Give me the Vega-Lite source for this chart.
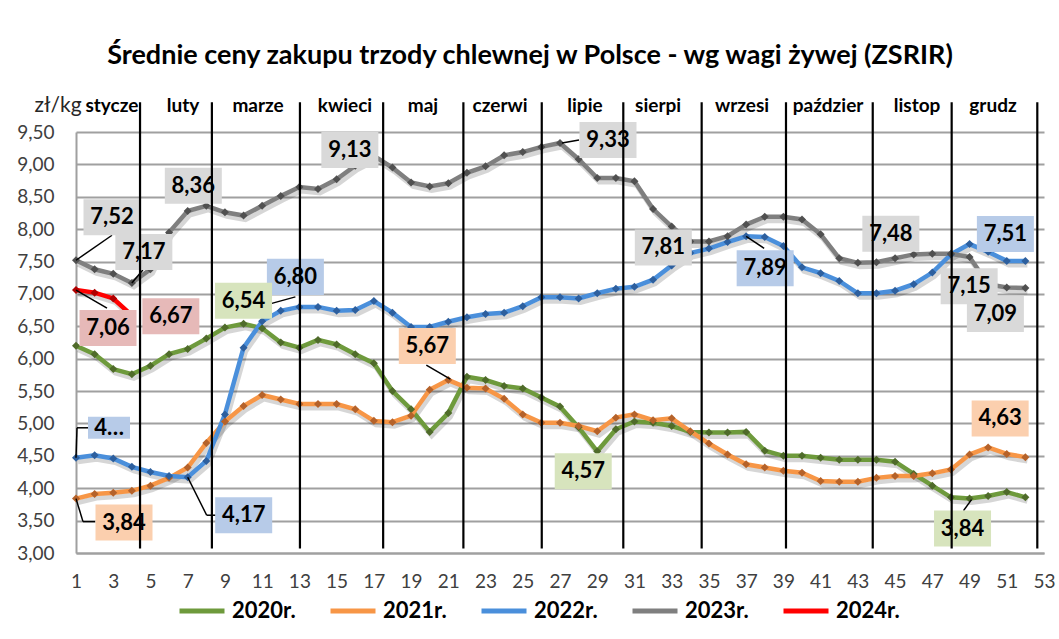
{
"$schema":"https://vega.github.io/schema/vega-lite/v6.json",
"width":968,"height":421,
"autosize":{"type":"none"},
"padding":{"left":76,"top":132,"right":15,"bottom":86},
"background":"white",
"title":{"text":"Średnie ceny zakupu trzody chlewnej w Polsce - wg wagi żywej (ZSRIR)","fontSize":27,"fontWeight":"bold","color":"#000","anchor":"middle","offset":24,"dx":-30},
"config":{"font":"Lato","view":{"stroke":null},"locale":{"number":{"decimal":",","thousands":" ","grouping":[3],"currency":["","zł"]}}},
"datasets":{
"seps":[{"week":4.44},{"week":8.3},{"week":13.03},{"week":17.5},{"week":21.81},{"week":26.02},{"week":30.4},{"week":34.61},{"week":39.14},{"week":43.8},{"week":48.04},{"week":52.64}],
"months":[{"week":2.93,"month":"stycze"},{"week":6.75,"month":"luty"},{"week":10.78,"month":"marze"},{"week":15.45,"month":"kwieci"},{"week":19.64,"month":"maj"},{"week":23.78,"month":"czerwi"},{"week":28.34,"month":"lipie"},{"week":32.27,"month":"sierpi"},{"week":36.78,"month":"wrzesi"},{"week":41.4,"month":"paździer"},{"week":46.18,"month":"listop"},{"week":50.26,"month":"grudz"}],
"prices":[
{"week":1,"series":"2020r.","price":6.20},{"week":2,"series":"2020r.","price":6.07},{"week":3,"series":"2020r.","price":5.84},{"week":4,"series":"2020r.","price":5.76},{"week":5,"series":"2020r.","price":5.89},{"week":6,"series":"2020r.","price":6.07},{"week":7,"series":"2020r.","price":6.15},{"week":8,"series":"2020r.","price":6.31},{"week":9,"series":"2020r.","price":6.48},{"week":10,"series":"2020r.","price":6.54},
{"week":11,"series":"2020r.","price":6.47},{"week":12,"series":"2020r.","price":6.25},{"week":13,"series":"2020r.","price":6.17},{"week":14,"series":"2020r.","price":6.29},{"week":15,"series":"2020r.","price":6.22},{"week":16,"series":"2020r.","price":6.07},{"week":17,"series":"2020r.","price":5.93},{"week":18,"series":"2020r.","price":5.50},{"week":19,"series":"2020r.","price":5.22},{"week":20,"series":"2020r.","price":4.87},
{"week":21,"series":"2020r.","price":5.16},{"week":22,"series":"2020r.","price":5.72},{"week":23,"series":"2020r.","price":5.67},{"week":24,"series":"2020r.","price":5.58},{"week":25,"series":"2020r.","price":5.54},{"week":26,"series":"2020r.","price":5.40},{"week":27,"series":"2020r.","price":5.26},{"week":28,"series":"2020r.","price":4.94},{"week":29,"series":"2020r.","price":4.57},{"week":30,"series":"2020r.","price":4.91},
{"week":31,"series":"2020r.","price":5.03},{"week":32,"series":"2020r.","price":5.01},{"week":33,"series":"2020r.","price":4.96},{"week":34,"series":"2020r.","price":4.87},{"week":35,"series":"2020r.","price":4.86},{"week":36,"series":"2020r.","price":4.86},{"week":37,"series":"2020r.","price":4.87},{"week":38,"series":"2020r.","price":4.58},{"week":39,"series":"2020r.","price":4.50},{"week":40,"series":"2020r.","price":4.50},
{"week":41,"series":"2020r.","price":4.47},{"week":42,"series":"2020r.","price":4.44},{"week":43,"series":"2020r.","price":4.44},{"week":44,"series":"2020r.","price":4.44},{"week":45,"series":"2020r.","price":4.41},{"week":46,"series":"2020r.","price":4.22},{"week":47,"series":"2020r.","price":4.04},{"week":48,"series":"2020r.","price":3.86},{"week":49,"series":"2020r.","price":3.84},{"week":50,"series":"2020r.","price":3.88},
{"week":51,"series":"2020r.","price":3.94},{"week":52,"series":"2020r.","price":3.86},
{"week":1,"series":"2021r.","price":3.84},{"week":2,"series":"2021r.","price":3.91},{"week":3,"series":"2021r.","price":3.93},{"week":4,"series":"2021r.","price":3.96},{"week":5,"series":"2021r.","price":4.04},{"week":6,"series":"2021r.","price":4.16},{"week":7,"series":"2021r.","price":4.32},{"week":8,"series":"2021r.","price":4.70},{"week":9,"series":"2021r.","price":5.03},{"week":10,"series":"2021r.","price":5.27},
{"week":11,"series":"2021r.","price":5.44},{"week":12,"series":"2021r.","price":5.37},{"week":13,"series":"2021r.","price":5.30},{"week":14,"series":"2021r.","price":5.30},{"week":15,"series":"2021r.","price":5.30},{"week":16,"series":"2021r.","price":5.22},{"week":17,"series":"2021r.","price":5.04},{"week":18,"series":"2021r.","price":5.02},{"week":19,"series":"2021r.","price":5.12},{"week":20,"series":"2021r.","price":5.52},
{"week":21,"series":"2021r.","price":5.67},{"week":22,"series":"2021r.","price":5.55},{"week":23,"series":"2021r.","price":5.54},{"week":24,"series":"2021r.","price":5.38},{"week":25,"series":"2021r.","price":5.14},{"week":26,"series":"2021r.","price":5.01},{"week":27,"series":"2021r.","price":5.01},{"week":28,"series":"2021r.","price":4.96},{"week":29,"series":"2021r.","price":4.88},{"week":30,"series":"2021r.","price":5.09},
{"week":31,"series":"2021r.","price":5.14},{"week":32,"series":"2021r.","price":5.05},{"week":33,"series":"2021r.","price":5.08},{"week":34,"series":"2021r.","price":4.88},{"week":35,"series":"2021r.","price":4.69},{"week":36,"series":"2021r.","price":4.52},{"week":37,"series":"2021r.","price":4.37},{"week":38,"series":"2021r.","price":4.32},{"week":39,"series":"2021r.","price":4.27},{"week":40,"series":"2021r.","price":4.24},
{"week":41,"series":"2021r.","price":4.11},{"week":42,"series":"2021r.","price":4.10},{"week":43,"series":"2021r.","price":4.10},{"week":44,"series":"2021r.","price":4.16},{"week":45,"series":"2021r.","price":4.19},{"week":46,"series":"2021r.","price":4.19},{"week":47,"series":"2021r.","price":4.23},{"week":48,"series":"2021r.","price":4.29},{"week":49,"series":"2021r.","price":4.52},{"week":50,"series":"2021r.","price":4.63},
{"week":51,"series":"2021r.","price":4.53},{"week":52,"series":"2021r.","price":4.48},
{"week":1,"series":"2022r.","price":4.47},{"week":2,"series":"2022r.","price":4.51},{"week":3,"series":"2022r.","price":4.46},{"week":4,"series":"2022r.","price":4.33},{"week":5,"series":"2022r.","price":4.25},{"week":6,"series":"2022r.","price":4.19},{"week":7,"series":"2022r.","price":4.17},{"week":8,"series":"2022r.","price":4.42},{"week":9,"series":"2022r.","price":5.14},{"week":10,"series":"2022r.","price":6.17},
{"week":11,"series":"2022r.","price":6.58},{"week":12,"series":"2022r.","price":6.74},{"week":13,"series":"2022r.","price":6.80},{"week":14,"series":"2022r.","price":6.80},{"week":15,"series":"2022r.","price":6.74},{"week":16,"series":"2022r.","price":6.75},{"week":17,"series":"2022r.","price":6.89},{"week":18,"series":"2022r.","price":6.71},{"week":19,"series":"2022r.","price":6.49},{"week":20,"series":"2022r.","price":6.49},
{"week":21,"series":"2022r.","price":6.57},{"week":22,"series":"2022r.","price":6.64},{"week":23,"series":"2022r.","price":6.69},{"week":24,"series":"2022r.","price":6.71},{"week":25,"series":"2022r.","price":6.81},{"week":26,"series":"2022r.","price":6.95},{"week":27,"series":"2022r.","price":6.95},{"week":28,"series":"2022r.","price":6.93},{"week":29,"series":"2022r.","price":7.01},{"week":30,"series":"2022r.","price":7.08},
{"week":31,"series":"2022r.","price":7.11},{"week":32,"series":"2022r.","price":7.22},{"week":33,"series":"2022r.","price":7.44},{"week":34,"series":"2022r.","price":7.63},{"week":35,"series":"2022r.","price":7.70},{"week":36,"series":"2022r.","price":7.80},{"week":37,"series":"2022r.","price":7.89},{"week":38,"series":"2022r.","price":7.88},{"week":39,"series":"2022r.","price":7.74},{"week":40,"series":"2022r.","price":7.41},
{"week":41,"series":"2022r.","price":7.32},{"week":42,"series":"2022r.","price":7.20},{"week":43,"series":"2022r.","price":7.01},{"week":44,"series":"2022r.","price":7.01},{"week":45,"series":"2022r.","price":7.05},{"week":46,"series":"2022r.","price":7.15},{"week":47,"series":"2022r.","price":7.33},{"week":48,"series":"2022r.","price":7.61},{"week":49,"series":"2022r.","price":7.77},{"week":50,"series":"2022r.","price":7.65},
{"week":51,"series":"2022r.","price":7.51},{"week":52,"series":"2022r.","price":7.51},
{"week":1,"series":"2023r.","price":7.52},{"week":2,"series":"2023r.","price":7.38},{"week":3,"series":"2023r.","price":7.31},{"week":4,"series":"2023r.","price":7.17},{"week":5,"series":"2023r.","price":7.38},{"week":6,"series":"2023r.","price":7.95},{"week":7,"series":"2023r.","price":8.28},{"week":8,"series":"2023r.","price":8.36},{"week":9,"series":"2023r.","price":8.26},{"week":10,"series":"2023r.","price":8.21},
{"week":11,"series":"2023r.","price":8.36},{"week":12,"series":"2023r.","price":8.51},{"week":13,"series":"2023r.","price":8.65},{"week":14,"series":"2023r.","price":8.62},{"week":15,"series":"2023r.","price":8.77},{"week":16,"series":"2023r.","price":8.98},{"week":17,"series":"2023r.","price":9.13},{"week":18,"series":"2023r.","price":8.95},{"week":19,"series":"2023r.","price":8.72},{"week":20,"series":"2023r.","price":8.66},
{"week":21,"series":"2023r.","price":8.71},{"week":22,"series":"2023r.","price":8.87},{"week":23,"series":"2023r.","price":8.97},{"week":24,"series":"2023r.","price":9.14},{"week":25,"series":"2023r.","price":9.19},{"week":26,"series":"2023r.","price":9.27},{"week":27,"series":"2023r.","price":9.33},{"week":28,"series":"2023r.","price":9.08},{"week":29,"series":"2023r.","price":8.79},{"week":30,"series":"2023r.","price":8.79},
{"week":31,"series":"2023r.","price":8.74},{"week":32,"series":"2023r.","price":8.31},{"week":33,"series":"2023r.","price":8.04},{"week":34,"series":"2023r.","price":7.81},{"week":35,"series":"2023r.","price":7.81},{"week":36,"series":"2023r.","price":7.89},{"week":37,"series":"2023r.","price":8.07},{"week":38,"series":"2023r.","price":8.19},{"week":39,"series":"2023r.","price":8.19},{"week":40,"series":"2023r.","price":8.15},
{"week":41,"series":"2023r.","price":7.92},{"week":42,"series":"2023r.","price":7.55},{"week":43,"series":"2023r.","price":7.48},{"week":44,"series":"2023r.","price":7.49},{"week":45,"series":"2023r.","price":7.55},{"week":46,"series":"2023r.","price":7.61},{"week":47,"series":"2023r.","price":7.62},{"week":48,"series":"2023r.","price":7.62},{"week":49,"series":"2023r.","price":7.57},{"week":50,"series":"2023r.","price":7.15},
{"week":51,"series":"2023r.","price":7.10},{"week":52,"series":"2023r.","price":7.09},
{"week":1,"series":"2024r.","price":7.06},{"week":2,"series":"2024r.","price":7.02},{"week":3,"series":"2024r.","price":6.93},{"week":4,"series":"2024r.","price":6.67}
]},
"layer":[
{"data":{"name":"prices"},
"encoding":{
"x":{"field":"week","type":"quantitative","scale":{"domain":[1,53],"nice":false,"zero":false},"axis":{"values":[1,3,5,7,9,11,13,15,17,19,21,23,25,27,29,31,33,35,37,39,41,43,45,47,49,51,53],"format":"d","title":null,"grid":false,"ticks":false,"labelPadding":19,"labelFontSize":19,"labelColor":"#404040","domainColor":"#a0a0a0","domainWidth":2,"labelFlush":false,"labelOverlap":false}},
"y":{"field":"price","type":"quantitative","scale":{"domain":[3,9.5],"nice":false,"zero":false},"axis":{"values":[3,3.5,4,4.5,5,5.5,6,6.5,7,7.5,8,8.5,9,9.5],"format":".2f","title":"zł/kg","titleAngle":0,"titleAlign":"left","titleBaseline":"alphabetic","titleX":-42,"titleY":-21,"titleFontSize":21,"titleFontWeight":"normal","titleColor":"#262626","grid":true,"gridColor":"#a0a0a0","gridWidth":2,"ticks":false,"labelPadding":22,"labelFontSize":19,"labelColor":"#404040","domainColor":"#a0a0a0","domainWidth":2,"labelOverlap":false}}
},
"layer":[
{"mark":{"type":"line","strokeWidth":5,"xOffset":2,"yOffset":4,"opacity":0.16,"color":"#000"},"encoding":{"detail":{"field":"series"}}},
{"mark":{"type":"line","strokeWidth":4.5},"encoding":{"color":{"field":"series","type":"nominal","scale":{"domain":["2020r.","2021r.","2022r.","2023r.","2024r."],"range":["#6e9a3c","#f79646","#4a8fdb","#7f7f7f","#ff0000"]},"legend":{"orient":"none","legendX":101,"legendY":454,"direction":"horizontal","title":null,"symbolType":"stroke","symbolStrokeWidth":5,"symbolSize":2025,"labelFontSize":22,"labelFontWeight":"bold","labelColor":"#000","columnPadding":24,"labelOffset":5}}}},
{"mark":{"type":"point","shape":"diamond","filled":true,"size":64,"opacity":1},"encoding":{"fill":{"field":"series","type":"nominal","scale":{"domain":["2020r.","2021r.","2022r.","2023r.","2024r."],"range":["#4f6b2a","#b5622a","#2d5f9e","#505050","#b00000"]},"legend":null}}},

{"transform":[{"filter":"datum.series==='2023r.'&&datum.week===1"}],"layer":[
{"mark":{"type":"rule","color":"#000","strokeWidth":1.5,"x2Offset":36,"y2Offset":-25},"encoding":{"x2":{"field":"week"},"y2":{"field":"price"}}},
{"mark":{"type":"point","shape":"M-1,-0.632L1,-0.632L1,0.632L-1,0.632Z","size":3249,"filled":true,"fill":"#d9d9d9","opacity":1,"strokeWidth":0,"xOffset":36,"yOffset":-43}},
{"mark":{"type":"text","fontSize":22,"fontWeight":"bold","fill":"#000","xOffset":36,"yOffset":-43,"baseline":"middle"},"encoding":{"text":{"field":"price","type":"quantitative","format":".2f"}}}]},
{"transform":[{"filter":"datum.series==='2023r.'&&datum.week===4"}],"layer":[
{"mark":{"type":"rule","color":"#000","strokeWidth":1.5,"x2Offset":11,"y2Offset":-13},"encoding":{"x2":{"field":"week"},"y2":{"field":"price"}}},
{"mark":{"type":"point","shape":"M-1,-0.632L1,-0.632L1,0.632L-1,0.632Z","size":3249,"filled":true,"fill":"#d9d9d9","opacity":1,"strokeWidth":0,"xOffset":12,"yOffset":-31}},
{"mark":{"type":"text","fontSize":22,"fontWeight":"bold","fill":"#000","xOffset":12,"yOffset":-31,"baseline":"middle"},"encoding":{"text":{"field":"price","type":"quantitative","format":".2f"}}}]},
{"transform":[{"filter":"datum.series==='2023r.'&&datum.week===8"}],"layer":[
{"mark":{"type":"point","shape":"M-1,-0.632L1,-0.632L1,0.632L-1,0.632Z","size":3249,"filled":true,"fill":"#d9d9d9","opacity":1,"strokeWidth":0,"xOffset":-13,"yOffset":-20}},
{"mark":{"type":"text","fontSize":22,"fontWeight":"bold","fill":"#000","xOffset":-13,"yOffset":-20,"baseline":"middle"},"encoding":{"text":{"field":"price","type":"quantitative","format":".2f"}}}]},
{"transform":[{"filter":"datum.series==='2023r.'&&datum.week===17"}],"layer":[
{"mark":{"type":"point","shape":"M-1,-0.632L1,-0.632L1,0.632L-1,0.632Z","size":3249,"filled":true,"fill":"#d9d9d9","opacity":1,"strokeWidth":0,"xOffset":-24,"yOffset":-6}},
{"mark":{"type":"text","fontSize":22,"fontWeight":"bold","fill":"#000","xOffset":-24,"yOffset":-6,"baseline":"middle"},"encoding":{"text":{"field":"price","type":"quantitative","format":".2f"}}}]},
{"transform":[{"filter":"datum.series==='2023r.'&&datum.week===27"}],"layer":[
{"mark":{"type":"rule","color":"#000","strokeWidth":1.5,"xOffset":2,"x2Offset":19,"y2Offset":-3},"encoding":{"x2":{"field":"week"},"y2":{"field":"price"}}},
{"mark":{"type":"point","shape":"M-1,-0.632L1,-0.632L1,0.632L-1,0.632Z","size":3249,"filled":true,"fill":"#d9d9d9","opacity":1,"strokeWidth":0,"xOffset":48,"yOffset":-3}},
{"mark":{"type":"text","fontSize":22,"fontWeight":"bold","fill":"#000","xOffset":48,"yOffset":-3,"baseline":"middle"},"encoding":{"text":{"field":"price","type":"quantitative","format":".2f"}}}]},
{"transform":[{"filter":"datum.series==='2023r.'&&datum.week===34"}],"layer":[
{"mark":{"type":"point","shape":"M-1,-0.632L1,-0.632L1,0.632L-1,0.632Z","size":3249,"filled":true,"fill":"#d9d9d9","opacity":1,"strokeWidth":0,"xOffset":-27,"yOffset":6}},
{"mark":{"type":"text","fontSize":22,"fontWeight":"bold","fill":"#000","xOffset":-27,"yOffset":6,"baseline":"middle"},"encoding":{"text":{"field":"price","type":"quantitative","format":".2f"}}}]},
{"transform":[{"filter":"datum.series==='2023r.'&&datum.week===43"}],"layer":[
{"mark":{"type":"point","shape":"M-1,-0.632L1,-0.632L1,0.632L-1,0.632Z","size":3249,"filled":true,"fill":"#d9d9d9","opacity":1,"strokeWidth":0,"xOffset":33,"yOffset":-29}},
{"mark":{"type":"text","fontSize":22,"fontWeight":"bold","fill":"#000","xOffset":33,"yOffset":-29,"baseline":"middle"},"encoding":{"text":{"field":"price","type":"quantitative","format":".2f"}}}]},
{"transform":[{"filter":"datum.series==='2023r.'&&datum.week===50"}],"layer":[
{"mark":{"type":"point","shape":"M-1,-0.632L1,-0.632L1,0.632L-1,0.632Z","size":3249,"filled":true,"fill":"#d9d9d9","opacity":1,"strokeWidth":0,"xOffset":-19,"yOffset":2}},
{"mark":{"type":"text","fontSize":22,"fontWeight":"bold","fill":"#000","xOffset":-19,"yOffset":2,"baseline":"middle"},"encoding":{"text":{"field":"price","type":"quantitative","format":".2f"}}}]},
{"transform":[{"filter":"datum.series==='2023r.'&&datum.week===52"}],"layer":[
{"mark":{"type":"point","shape":"M-1,-0.632L1,-0.632L1,0.632L-1,0.632Z","size":3249,"filled":true,"fill":"#d9d9d9","opacity":1,"strokeWidth":0,"xOffset":-30,"yOffset":26}},
{"mark":{"type":"text","fontSize":22,"fontWeight":"bold","fill":"#000","xOffset":-30,"yOffset":26,"baseline":"middle"},"encoding":{"text":{"field":"price","type":"quantitative","format":".2f"}}}]},

{"transform":[{"filter":"datum.series==='2022r.'&&datum.week===1"}],"layer":[
{"mark":{"type":"rule","color":"#000","strokeWidth":1.5,"x2Offset":1,"y2Offset":-30},"encoding":{"x2":{"field":"week"},"y2":{"field":"price"}}},
{"mark":{"type":"rule","color":"#000","strokeWidth":1.5,"xOffset":1,"yOffset":-30,"x2Offset":12,"y2Offset":-30},"encoding":{"x2":{"field":"week"},"y2":{"field":"price"}}},
{"mark":{"type":"point","shape":"M-1,-0.524L1,-0.524L1,0.524L-1,0.524Z","size":1764,"filled":true,"fill":"#b7cbe8","opacity":1,"strokeWidth":0,"xOffset":33,"yOffset":-30}},
{"mark":{"type":"text","text":"4…","fontSize":22,"fontWeight":"bold","fill":"#000","xOffset":33,"yOffset":-30,"baseline":"middle"}}]},
{"transform":[{"filter":"datum.series==='2022r.'&&datum.week===7"}],"layer":[
{"mark":{"type":"rule","color":"#000","strokeWidth":1.5,"x2Offset":19,"y2Offset":38},"encoding":{"x2":{"field":"week"},"y2":{"field":"price"}}},
{"mark":{"type":"rule","color":"#000","strokeWidth":1.5,"xOffset":19,"yOffset":38,"x2Offset":28,"y2Offset":38},"encoding":{"x2":{"field":"week"},"y2":{"field":"price"}}},
{"mark":{"type":"point","shape":"M-1,-0.632L1,-0.632L1,0.632L-1,0.632Z","size":3249,"filled":true,"fill":"#b7cbe8","opacity":1,"strokeWidth":0,"xOffset":56,"yOffset":38}},
{"mark":{"type":"text","fontSize":22,"fontWeight":"bold","fill":"#000","xOffset":56,"yOffset":38,"baseline":"middle"},"encoding":{"text":{"field":"price","type":"quantitative","format":".2f"}}}]},
{"transform":[{"filter":"datum.series==='2022r.'&&datum.week===13"}],"layer":[
{"mark":{"type":"rule","color":"#000","strokeWidth":1.5,"xOffset":-33,"yOffset":-2,"x2Offset":-4,"y2Offset":-10},"encoding":{"x2":{"field":"week"},"y2":{"field":"price"}}},
{"mark":{"type":"point","shape":"M-1,-0.632L1,-0.632L1,0.632L-1,0.632Z","size":3249,"filled":true,"fill":"#b7cbe8","opacity":1,"strokeWidth":0,"xOffset":-4,"yOffset":-30}},
{"mark":{"type":"text","fontSize":22,"fontWeight":"bold","fill":"#000","xOffset":-4,"yOffset":-30,"baseline":"middle"},"encoding":{"text":{"field":"price","type":"quantitative","format":".2f"}}}]},
{"transform":[{"filter":"datum.series==='2022r.'&&datum.week===37"}],"layer":[
{"mark":{"type":"rule","color":"#000","strokeWidth":1.5,"x2Offset":18,"y2Offset":12},"encoding":{"x2":{"field":"week"},"y2":{"field":"price"}}},
{"mark":{"type":"point","shape":"M-1,-0.632L1,-0.632L1,0.632L-1,0.632Z","size":3249,"filled":true,"fill":"#b7cbe8","opacity":1,"strokeWidth":0,"xOffset":19,"yOffset":32}},
{"mark":{"type":"text","fontSize":22,"fontWeight":"bold","fill":"#000","xOffset":19,"yOffset":32,"baseline":"middle"},"encoding":{"text":{"field":"price","type":"quantitative","format":".2f"}}}]},
{"transform":[{"filter":"datum.series==='2022r.'&&datum.week===52"}],"layer":[
{"mark":{"type":"point","shape":"M-1,-0.632L1,-0.632L1,0.632L-1,0.632Z","size":3249,"filled":true,"fill":"#b7cbe8","opacity":1,"strokeWidth":0,"xOffset":-20,"yOffset":-27}},
{"mark":{"type":"text","fontSize":22,"fontWeight":"bold","fill":"#000","xOffset":-20,"yOffset":-27,"baseline":"middle"},"encoding":{"text":{"field":"price","type":"quantitative","format":".2f"}}}]},

{"transform":[{"filter":"datum.series==='2020r.'&&datum.week===10"}],"layer":[
{"mark":{"type":"point","shape":"M-1,-0.632L1,-0.632L1,0.632L-1,0.632Z","size":3249,"filled":true,"fill":"#d7e4bd","opacity":1,"strokeWidth":0,"xOffset":0,"yOffset":-23}},
{"mark":{"type":"text","fontSize":22,"fontWeight":"bold","fill":"#000","xOffset":0,"yOffset":-23,"baseline":"middle"},"encoding":{"text":{"field":"price","type":"quantitative","format":".2f"}}}]},
{"transform":[{"filter":"datum.series==='2020r.'&&datum.week===29"}],"layer":[
{"mark":{"type":"point","shape":"M-1,-0.632L1,-0.632L1,0.632L-1,0.632Z","size":3249,"filled":true,"fill":"#d7e4bd","opacity":1,"strokeWidth":0,"xOffset":-14,"yOffset":20}},
{"mark":{"type":"text","fontSize":22,"fontWeight":"bold","fill":"#000","xOffset":-14,"yOffset":20,"baseline":"middle"},"encoding":{"text":{"field":"price","type":"quantitative","format":".2f"}}}]},
{"transform":[{"filter":"datum.series==='2020r.'&&datum.week===49"}],"layer":[
{"mark":{"type":"rule","color":"#000","strokeWidth":1.5,"xOffset":2,"yOffset":1,"x2Offset":-6,"y2Offset":12},"encoding":{"x2":{"field":"week"},"y2":{"field":"price"}}},
{"mark":{"type":"point","shape":"M-1,-0.632L1,-0.632L1,0.632L-1,0.632Z","size":3249,"filled":true,"fill":"#d7e4bd","opacity":1,"strokeWidth":0,"xOffset":-7,"yOffset":30}},
{"mark":{"type":"text","fontSize":22,"fontWeight":"bold","fill":"#000","xOffset":-7,"yOffset":30,"baseline":"middle"},"encoding":{"text":{"field":"price","type":"quantitative","format":".2f"}}}]},

{"transform":[{"filter":"datum.series==='2021r.'&&datum.week===1"}],"layer":[
{"mark":{"type":"rule","color":"#000","strokeWidth":1.5,"x2Offset":7,"y2Offset":23},"encoding":{"x2":{"field":"week"},"y2":{"field":"price"}}},
{"mark":{"type":"rule","color":"#000","strokeWidth":1.5,"xOffset":7,"yOffset":23,"x2Offset":19,"y2Offset":23},"encoding":{"x2":{"field":"week"},"y2":{"field":"price"}}},
{"mark":{"type":"point","shape":"M-1,-0.632L1,-0.632L1,0.632L-1,0.632Z","size":3249,"filled":true,"fill":"#fbcfae","opacity":1,"strokeWidth":0,"xOffset":48,"yOffset":24}},
{"mark":{"type":"text","fontSize":22,"fontWeight":"bold","fill":"#000","xOffset":48,"yOffset":24,"baseline":"middle"},"encoding":{"text":{"field":"price","type":"quantitative","format":".2f"}}}]},
{"transform":[{"filter":"datum.series==='2021r.'&&datum.week===21"}],"layer":[
{"mark":{"type":"rule","color":"#000","strokeWidth":1.5,"xOffset":-22,"yOffset":-15,"x2Offset":2,"y2Offset":-1},"encoding":{"x2":{"field":"week"},"y2":{"field":"price"}}},
{"mark":{"type":"point","shape":"M-1,-0.632L1,-0.632L1,0.632L-1,0.632Z","size":3249,"filled":true,"fill":"#fbcfae","opacity":1,"strokeWidth":0,"xOffset":-21,"yOffset":-34}},
{"mark":{"type":"text","fontSize":22,"fontWeight":"bold","fill":"#000","xOffset":-21,"yOffset":-34,"baseline":"middle"},"encoding":{"text":{"field":"price","type":"quantitative","format":".2f"}}}]},
{"transform":[{"filter":"datum.series==='2021r.'&&datum.week===50"}],"layer":[
{"mark":{"type":"point","shape":"M-1,-0.632L1,-0.632L1,0.632L-1,0.632Z","size":3249,"filled":true,"fill":"#fbcfae","opacity":1,"strokeWidth":0,"xOffset":12,"yOffset":-29}},
{"mark":{"type":"text","fontSize":22,"fontWeight":"bold","fill":"#000","xOffset":12,"yOffset":-29,"baseline":"middle"},"encoding":{"text":{"field":"price","type":"quantitative","format":".2f"}}}]},

{"transform":[{"filter":"datum.series==='2024r.'&&datum.week===1"}],"layer":[
{"mark":{"type":"rule","color":"#000","strokeWidth":1.5,"x2Offset":31,"y2Offset":18},"encoding":{"x2":{"field":"week"},"y2":{"field":"price"}}},
{"mark":{"type":"point","shape":"M-1,-0.632L1,-0.632L1,0.632L-1,0.632Z","size":3249,"filled":true,"fill":"#e6b9b8","opacity":1,"strokeWidth":0,"xOffset":32,"yOffset":38}},
{"mark":{"type":"text","fontSize":22,"fontWeight":"bold","fill":"#000","xOffset":32,"yOffset":38,"baseline":"middle"},"encoding":{"text":{"field":"price","type":"quantitative","format":".2f"}}}]},
{"transform":[{"filter":"datum.series==='2024r.'&&datum.week===4"}],"layer":[
{"mark":{"type":"point","shape":"M-1,-0.632L1,-0.632L1,0.632L-1,0.632Z","size":3249,"filled":true,"fill":"#e6b9b8","opacity":1,"strokeWidth":0,"xOffset":39,"yOffset":1}},
{"mark":{"type":"text","fontSize":22,"fontWeight":"bold","fill":"#000","xOffset":39,"yOffset":1,"baseline":"middle"},"encoding":{"text":{"field":"price","type":"quantitative","format":".2f"}}}]}
]},

{"data":{"name":"seps"},
 "mark":{"type":"rule","color":"#000","strokeWidth":2.2},
 "encoding":{
 "x":{"field":"week","type":"quantitative","scale":{"domain":[1,53],"nice":false,"zero":false},"axis":{"values":[1,3,5,7,9,11,13,15,17,19,21,23,25,27,29,31,33,35,37,39,41,43,45,47,49,51,53],"format":"d","title":null,"grid":false,"ticks":false,"labelPadding":19,"labelFontSize":19,"labelColor":"#404040","domainColor":"#a0a0a0","domainWidth":2,"labelFlush":false,"labelOverlap":false}},
 "y":{"datum":3.07,"type":"quantitative","scale":{"domain":[3,9.5],"nice":false,"zero":false},"axis":{"values":[3,3.5,4,4.5,5,5.5,6,6.5,7,7.5,8,8.5,9,9.5],"format":".2f","title":"zł/kg","titleAngle":0,"titleAlign":"left","titleBaseline":"alphabetic","titleX":-42,"titleY":-21,"titleFontSize":21,"titleFontWeight":"normal","titleColor":"#262626","grid":true,"gridColor":"#a0a0a0","gridWidth":2,"ticks":false,"labelPadding":22,"labelFontSize":19,"labelColor":"#404040","domainColor":"#a0a0a0","domainWidth":2,"labelOverlap":false}},
 "y2":{"datum":9.96}}},
{"data":{"name":"months"},
 "mark":{"type":"text","fontSize":19,"fontWeight":"bold","color":"#000","baseline":"alphabetic","align":"center"},
 "encoding":{
 "x":{"field":"week","type":"quantitative","scale":{"domain":[1,53],"nice":false,"zero":false},"axis":{"values":[1,3,5,7,9,11,13,15,17,19,21,23,25,27,29,31,33,35,37,39,41,43,45,47,49,51,53],"format":"d","title":null,"grid":false,"ticks":false,"labelPadding":19,"labelFontSize":19,"labelColor":"#404040","domainColor":"#a0a0a0","domainWidth":2,"labelFlush":false,"labelOverlap":false}},
 "y":{"datum":9.81,"type":"quantitative","scale":{"domain":[3,9.5],"nice":false,"zero":false},"axis":{"values":[3,3.5,4,4.5,5,5.5,6,6.5,7,7.5,8,8.5,9,9.5],"format":".2f","title":"zł/kg","titleAngle":0,"titleAlign":"left","titleBaseline":"alphabetic","titleX":-42,"titleY":-21,"titleFontSize":21,"titleFontWeight":"normal","titleColor":"#262626","grid":true,"gridColor":"#a0a0a0","gridWidth":2,"ticks":false,"labelPadding":22,"labelFontSize":19,"labelColor":"#404040","domainColor":"#a0a0a0","domainWidth":2,"labelOverlap":false}},
 "text":{"field":"month","type":"nominal"}}}
]
}
